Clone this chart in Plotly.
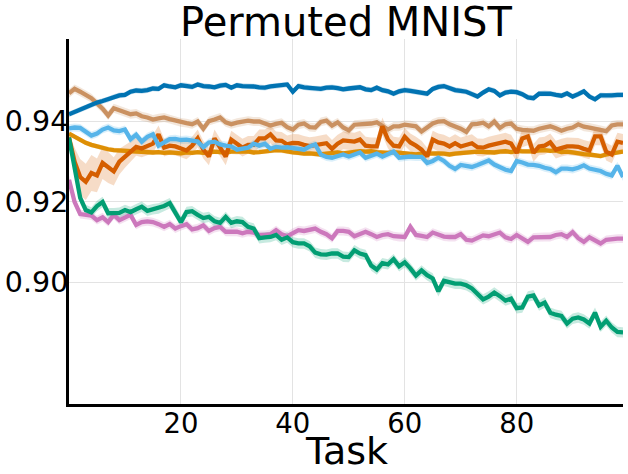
import plotly.graph_objects as go

# Task index on the x axis
tasks = list(range(100))

# Mean accuracy per task
acc_blue = [
    .9418, .9424, .9430, .9436, .9441, .9447, .9451, .9455, .9461, .9465,
    .9466, .9474, .9477, .9476, .9478, .9482, .9481, .9490, .9487, .9485,
    .9490, .9489, .9486, .9492, .9488, .9487, .9485, .9489, .9491, .9484,
    .9490, .9488, .9488, .9487, .9485, .9484, .9487, .9488, .9490, .9492,
    .9474, .9488, .9485, .9483, .9482, .9481, .9484, .9485, .9483, .9480,
    .9482, .9484, .9485, .9480, .9478, .9484, .9478, .9475, .9469, .9475,
    .9478, .9476, .9474, .9472, .9469, .9481, .9486, .9488, .9482, .9478,
    .9476, .9474, .9468, .9462, .9472, .9480, .9476, .9465, .9472, .9474,
    .9473, .9468, .9460, .9458, .9469, .9470, .9469, .9466, .9464, .9470,
    .9462, .9468, .9475, .9462, .9455, .9465, .9464, .9465, .9466, .9466,
]
acc_tan = [
    .9470, .9481, .9474, .9465, .9458, .9445, .9432, .9415, .9433, .9428,
    .9422, .9418, .9420, .9413, .9410, .9405, .9408, .9410, .9406, .9402,
    .9398, .9396, .9393, .9400, .9382, .9401, .9405, .9410, .9398, .9393,
    .9397, .9399, .9402, .9400, .9400, .9395, .9390, .9394, .9397, .9386,
    .9380, .9392, .9395, .9386, .9385, .9399, .9402, .9390, .9398, .9385,
    .9378, .9392, .9393, .9393, .9395, .9398, .9388, .9380, .9388, .9388,
    .9392, .9391, .9388, .9375, .9385, .9395, .9400, .9401, .9393, .9388,
    .9382, .9374, .9393, .9394, .9397, .9388, .9400, .9384, .9393, .9395,
    .9382, .9379, .9377, .9377, .9382, .9385, .9388, .9383, .9377, .9382,
    .9385, .9393, .9387, .9385, .9382, .9380, .9376, .9390, .9393, .9393,
]
acc_orange = [
    .9370, .9362, .9354, .9347, .9342, .9338, .9334, .9331, .9329, .9328,
    .9327, .9326, .9325, .9326, .9324, .9323, .9324, .9322, .9323, .9322,
    .9321, .9323, .9322, .9324, .9322, .9323, .9325, .9324, .9323, .9325,
    .9324, .9325, .9326, .9323, .9324, .9326, .9327, .9329, .9328, .9325,
    .9323, .9322, .9320, .9321, .9319, .9318, .9320, .9322, .9323, .9321,
    .9323, .9324, .9326, .9325, .9326, .9324, .9323, .9322, .9324, .9322,
    .9320, .9319, .9318, .9320, .9321, .9322, .9321, .9320, .9318, .9320,
    .9322, .9323, .9324, .9325, .9324, .9322, .9323, .9325, .9326, .9324,
    .9327, .9326, .9325, .9326, .9328, .9329, .9327, .9328, .9324, .9325,
    .9323, .9320, .9319, .9318, .9316, .9314, .9318, .9320, .9324, .9325,
]
acc_vermillion = [
    .9360, .9300, .9262, .9250, .9272, .9266, .9297, .9285, .9276, .9300,
    .9313, .9325, .9337, .9333, .9338, .9345, .9368, .9335, .9340, .9338,
    .9333, .9328, .9340, .9358, .9330, .9313, .9358, .9335, .9313, .9355,
    .9345, .9335, .9342, .9342, .9358, .9358, .9368, .9353, .9352, .9343,
    .9347, .9346, .9342, .9339, .9341, .9344, .9346, .9332, .9345, .9353,
    .9352, .9350, .9355, .9340, .9338, .9338, .9388, .9355, .9340, .9338,
    .9362, .9348, .9340, .9330, .9313, .9355, .9348, .9345, .9338, .9346,
    .9338, .9342, .9346, .9336, .9335, .9340, .9343, .9347, .9350, .9345,
    .9322, .9358, .9363, .9322, .9338, .9340, .9348, .9330, .9335, .9338,
    .9338, .9337, .9332, .9328, .9363, .9363, .9325, .9318, .9350, .9347,
]
acc_lightblue = [
    .9383, .9385, .9384, .9375, .9365, .9370, .9380, .9385, .9378, .9376,
    .9380, .9356, .9367, .9350, .9362, .9368, .9340, .9348, .9356, .9357,
    .9354, .9355, .9353, .9350, .9336, .9348, .9350, .9343, .9340, .9338,
    .9330, .9333, .9335, .9345, .9340, .9345, .9332, .9337, .9335, .9336,
    .9334, .9333, .9330, .9338, .9343, .9318, .9312, .9310, .9315, .9318,
    .9313, .9318, .9323, .9310, .9315, .9320, .9313, .9320, .9325, .9310,
    .9312, .9313, .9312, .9312, .9297, .9302, .9310, .9302, .9290, .9282,
    .9292, .9290, .9287, .9292, .9297, .9303, .9293, .9285, .9280, .9277,
    .9302, .9298, .9293, .9292, .9290, .9285, .9282, .9274, .9283, .9283,
    .9281, .9285, .9291, .9283, .9280, .9277, .9270, .9266, .9290, .9262,
]
acc_green = [
    .9360, .9290, .9210, .9180, .9174, .9190, .9200, .9172, .9172, .9173,
    .9180, .9175, .9182, .9188, .9178, .9182, .9184, .9190, .9197, .9175,
    .9150, .9175, .9177, .9168, .9160, .9163, .9152, .9148, .9163, .9148,
    .9152, .9150, .9138, .9134, .9110, .9112, .9113, .9118, .9106, .9112,
    .9100, .9097, .9097, .9090, .9074, .9070, .9069, .9072, .9072, .9064,
    .9063, .9080, .9072, .9068, .9042, .9032, .9048, .9045, .9058, .9040,
    .9050, .9035, .9017, .9030, .9018, .9010, .8978, .9004, .9000, .8997,
    .8997, .8993, .8985, .8970, .8958, .8965, .8975, .8966, .8955, .8960,
    .8936, .8938, .8965, .8968, .8943, .8950, .8925, .8920, .8917, .8898,
    .8910, .8913, .8908, .8898, .8925, .8890, .8905, .8888, .8877, .8876,
]
acc_pink = [
    .9255, .9200, .9170, .9168, .9166, .9155, .9162, .9150, .9168, .9155,
    .9162, .9168, .9143, .9150, .9152, .9150, .9145, .9138, .9145, .9134,
    .9140, .9145, .9132, .9135, .9142, .9128, .9135, .9138, .9126, .9126,
    .9126, .9122, .9126, .9124, .9118, .9118, .9120, .9130, .9120, .9115,
    .9124, .9130, .9128, .9131, .9134, .9126, .9120, .9110, .9128, .9128,
    .9126, .9115, .9120, .9126, .9120, .9113, .9118, .9120, .9115, .9113,
    .9113, .9138, .9118, .9116, .9113, .9124, .9118, .9114, .9113, .9113,
    .9120, .9106, .9104, .9110, .9117, .9115, .9120, .9124, .9112, .9108,
    .9118, .9110, .9101, .9112, .9113, .9113, .9113, .9118, .9120, .9113,
    .9125, .9110, .9101, .9112, .9105, .9097, .9106, .9108, .9109, .9109,
]

# half width of the shaded band (std over seeds), estimated
spread_blue = 0.0007
spread_tan = 0.0011
spread_orange = 0.0006
spread_lightblue = 0.0010
spread_green = 0.0013
spread_pink = 0.0011
spread_vermillion_early = [0.0010, 0.0035, 0.0045, 0.0045, 0.0045, 0.0042,
                           0.0040, 0.0038, 0.0035, 0.0032, 0.0028, 0.0025]
spread_vermillion_rest = 0.0022

y_ticks = [0.90, 0.92, 0.94]
x_ticks = [20, 40, 60, 80]

# seaborn colorblind palette
series = [
    (acc_tan, [spread_tan] * 100, "#ca9161"),
    (acc_orange, [spread_orange] * 100, "#de8f05"),
    (acc_vermillion, spread_vermillion_early + [spread_vermillion_rest] * 88, "#d55e00"),
    (acc_lightblue, [spread_lightblue] * 100, "#56b4e9"),
    (acc_pink, [spread_pink] * 100, "#cc78bc"),
    (acc_green, [spread_green] * 100, "#029e73"),
    (acc_blue, [spread_blue] * 100, "#0173b2"),
]


def rgba(hex_color, alpha):
    h = hex_color.lstrip("#")
    r, g, b = int(h[0:2], 16), int(h[2:4], 16), int(h[4:6], 16)
    return f"rgba({r},{g},{b},{alpha})"


fig = go.Figure()

# bands first, so all lines sit on top of them
for acc, spread, color in series:
    upper = [a + s for a, s in zip(acc, spread)]
    lower = [a - s for a, s in zip(acc, spread)]
    fig.add_trace(go.Scatter(x=tasks, y=upper, mode="lines",
                             line=dict(width=0), hoverinfo="skip", showlegend=False))
    fig.add_trace(go.Scatter(x=tasks, y=lower, mode="lines", fill="tonexty",
                             fillcolor=rgba(color, 0.22),
                             line=dict(width=0), hoverinfo="skip", showlegend=False))

for acc, spread, color in series:
    fig.add_trace(go.Scatter(x=tasks, y=acc, mode="lines",
                             line=dict(color=color, width=4.3),
                             showlegend=False))

# plot area: x 69..623, y 39..404 px
fig.update_layout(
    width=628,
    height=474,
    margin=dict(l=69, r=5, t=39, b=70),
    plot_bgcolor="white",
    paper_bgcolor="white",
    font=dict(family="DejaVu Sans", color="black"),
    annotations=[
        dict(text="Permuted MNIST", x=0.5, y=1.046, xref="paper", yref="paper",
             xanchor="center", yanchor="middle", showarrow=False,
             font=dict(size=40)),
        dict(text="Task", x=0.5, y=-0.129, xref="paper", yref="paper",
             xanchor="center", yanchor="middle", showarrow=False,
             font=dict(size=38)),
    ],
)
fig.update_xaxes(
    range=[0, 99],
    tickvals=x_ticks,
    ticks="",
    ticklen=0,
    tickfont=dict(size=27.5),
    ticklabelstandoff=-7,
    showgrid=True, gridcolor="#e3e3e3", gridwidth=1,
    showline=True, linecolor="black", linewidth=3,
    zeroline=False,
    automargin=False,
)
fig.update_yaxes(
    range=[0.8698, 0.9605],
    tickvals=y_ticks,
    tickformat=".2f",
    ticks="",
    ticklen=0,
    tickfont=dict(size=28.5),
    ticklabelstandoff=-8,
    showgrid=True, gridcolor="#e3e3e3", gridwidth=1,
    showline=True, linecolor="black", linewidth=3,
    zeroline=False,
    automargin=False,
)

# drop the browser's default body margin so the figure sits at the page corner
fig.write_html("out.html", config={"displayModeBar": False},
               post_script="document.body.style.margin = '0';")
